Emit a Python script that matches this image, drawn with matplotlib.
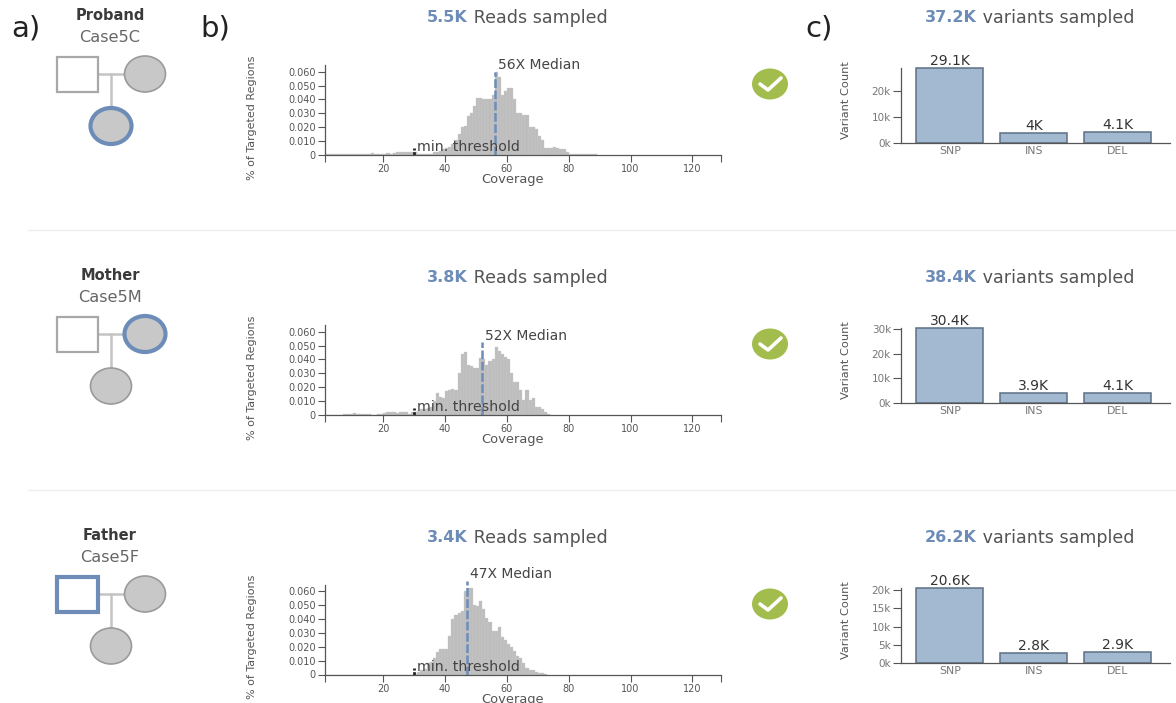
import matplotlib
matplotlib.use('Agg')
import matplotlib.pyplot as plt
from matplotlib.patches import Ellipse, Rectangle

W, H = 1176, 703
plt.rcParams['font.family'] = ['DejaVu Sans']

coverage_start = 1
proband_cov = [.0005, .0005, .0005, .0005, .0005, .0005, .001, .001, .0005, .001, .001, .001, .001, .001, .001, .0015, .0005,
               .0005, .001, .001, .0015, .001, .0015, .002, .002, .002, .002, .002, .002, .002,
               .001, .0005, .0005, .001, .001, .002, .002, .003, .004, .005,
               .006, .008, .011, .015, .020, .021, .028, .030, .035, .041,
               .041, .040, .040, .040, .043, .060, .056, .043, .046, .048,
               .048, .040, .030, .030, .029, .029, .020, .020, .019, .014,
               .011, .005, .005, .005, .006, .005, .004, .004, .002, .001,
               .0005, .0005, .0005, .001, .001, .0005, .0005, .0005]
mother_cov = [0, 0, 0, 0, 0, 0, .0005, .001, .001, .0015, .001, .0005, .001, .0005, .001, 0, 0, .0005, .001, .0015,
              .002, .002, .002, .0015, .002, .002, .002, .001, .002, .002,
              .003, .004, .004, .005, .006, .010, .016, .013, .012, .017,
              .018, .019, .018, .030, .044, .045, .036, .035, .034, .034,
              .041, .040, .036, .039, .040, .049, .046, .044, .042, .040,
              .030, .024, .024, .018, .011, .018, .011, .012, .006, .006,
              .004, .002, .001]
father_cov = [0] * 29 + [.0005, .002, .003, .004, .008, .009, .012, .016, .018, .018, .018,
              .028, .040, .043, .044, .046, .060, .062, .062, .050, .049,
              .053, .047, .041, .038, .031, .031, .034, .027, .025, .022,
              .020, .017, .013, .012, .008, .005, .003, .003, .002, .001, .001, .0005]
cov_ticks = [20, 40, 60, 80, 100, 120]
frac_ticks = [0, .01, .02, .03, .04, .05, .06]
frac_labels = ['0', '0.010', '0.020', '0.030', '0.040', '0.050', '0.060']

roles = ['Proband', 'Mother', 'Father']
cases = ['Case5C', 'Case5M', 'Case5F']
reads = ['5.5K', '3.8K', '3.4K']
medians = [56, 52, 47]
variants = ['37.2K', '38.4K', '26.2K']
var_types = ['SNP', 'INS', 'DEL']
var_counts = [[29100, 4000, 4100], [30400, 3900, 4100], [20600, 2800, 2900]]
var_labels = [['29.1K', '4K', '4.1K'], ['30.4K', '3.9K', '4.1K'], ['20.6K', '2.8K', '2.9K']]
var_ticks = [[0, 10000, 20000], [0, 10000, 20000, 30000], [0, 5000, 10000, 15000, 20000]]
var_ticklabels = [['0k', '10k', '20k'], ['0k', '10k', '20k', '30k'], ['0k', '5k', '10k', '15k', '20k']]

BLUE = '#6d8db8'
BAR_BLUE = '#a3b8d1'
GREY = '#bdbdbd'

fig = plt.figure(figsize=(W / 100, H / 100), dpi=100)


def px_axes(left, top, right, bottom):
    return fig.add_axes([left / W, 1 - bottom / H, (right - left) / W, (bottom - top) / H])


# pixel overlay for labels and pedigree drawings
bg = fig.add_axes([0, 0, 1, 1])
bg.set_xlim(0, W)
bg.set_ylim(H, 0)
bg.axis('off')

bg.text(11, 28, 'a)', fontsize=21, color='#222222', va='center')
bg.text(200, 28, 'b)', fontsize=21, color='#222222', va='center')
bg.text(805, 28, 'c)', fontsize=21, color='#222222', va='center')
bg.plot([28, 1176], [230, 230], color='#eeeeee', lw=1)
bg.plot([28, 1176], [490, 490], color='#eeeeee', lw=1)


def pedigree(off, who):
    line = '#c4c4c4'
    bg.plot([99, 124], [74 + off, 74 + off], color=line, lw=1.8, zorder=1)
    bg.plot([111, 111], [74 + off, 108 + off], color=line, lw=1.8, zorder=1)
    bg.add_patch(Rectangle((57, 57 + off), 41, 35, fc='white', ec=BLUE if who == 2 else '#a8a8a8',
                           lw=3 if who == 2 else 1.6, zorder=2))
    bg.add_patch(Ellipse((145, 74 + off), 41, 36, fc='#c8c8c8', ec=BLUE if who == 1 else '#9a9a9a',
                         lw=3 if who == 1 else 1.2, zorder=2))
    bg.add_patch(Ellipse((111, 126 + off), 41, 36, fc='#c8c8c8', ec=BLUE if who == 0 else '#9a9a9a',
                         lw=3 if who == 0 else 1.2, zorder=2))


def check(off):
    bg.add_patch(Ellipse((770, 84 + off), 36, 31, fc='#a2bd4e', ec='none'))
    bg.plot([760, 768, 781], [84 + off, 90 + off, 78 + off], color='white', lw=2.6, solid_capstyle='round')


def style_axis(ax):
    ax.patch.set_alpha(0)
    for s in ['top', 'right']:
        ax.spines[s].set_visible(False)
    for s in ['left', 'bottom']:
        ax.spines[s].set_color('#555555')
        ax.spines[s].set_linewidth(0.9)


rows = [0, 260, 520]
row_hist = [proband_cov, mother_cov, father_cov]
for i, off in enumerate(rows):
    bg.text(110, 15 + off, roles[i], fontsize=10.5, fontweight='bold', color='#3a3a3a', ha='center', va='center')
    bg.text(110, 38 + off, cases[i], fontsize=11.6, color='#666666', ha='center', va='center')
    pedigree(off, i)
    check(off)

    # read count and variant count titles
    t = bg.annotate(reads[i], (427, 18 + off), fontsize=11.5, fontweight='bold', color=BLUE, va='center')
    bg.annotate(' Reads sampled', xycoords=t, xy=(1, 0.5), fontsize=12.6, color='#555555', va='center')
    t = bg.annotate(variants[i], (925, 18 + off), fontsize=11.5, fontweight='bold', color=BLUE, va='center')
    bg.annotate(' variants sampled', xycoords=t, xy=(1, 0.5), fontsize=12.6, color='#555555', va='center')

    # coverage histogram
    base = 155 + off - (0 if i < 2 else 0.5)
    ax = px_axes(324.7, base - 90, 720.7, base)
    style_axis(ax)
    ax.set_xlim(1, 129.2)
    ax.set_ylim(0, 90 / 1390)
    xs = [coverage_start + k for k in range(len(row_hist[i]))]
    ax.bar(xs, row_hist[i], width=1.0, align='edge', color=GREY, edgecolor='#cccccc', linewidth=0.25)
    ax.set_xticks(cov_ticks + [1, 129.2], [str(v) for v in cov_ticks] + ['', ''])
    ax.set_yticks(frac_ticks, frac_labels)
    ax.tick_params(axis='both', labelsize=7, length=5, width=0.8, color='#555555', labelcolor='#555555', pad=1.5)
    ax.set_xlabel('Coverage', fontsize=9.4, color='#555555')
    ax.set_ylabel('% of Targeted Regions', fontsize=8, color='#555555')
    ax.yaxis.set_label_coords(-0.17, 0.417)
    ax.xaxis.set_label_coords(0.475, -0.2)
    med_top = [.060, .0525, .0675][i]
    ax.plot([medians[i], medians[i]], [0, med_top], color=BLUE, lw=1.8, ls=(0, (3.5, 1)), clip_on=False)
    ax.text(medians[i] + 1, med_top - .0005, f'{medians[i]}X Median', fontsize=10, color='#444444', va='bottom', clip_on=False)
    ax.plot([30, 30], [0, .005], color='#222222', lw=2, ls=(0, (1.2, 0.6)))
    ax.text(30.8, .0005, 'min. threshold', fontsize=10.2, color='#444444', va='bottom')

    # variant count bars
    ybase = 143 + off
    ax2 = px_axes(900.7, ybase - 75, 1170, ybase)
    style_axis(ax2)
    ax2.set_ylim(0, max(var_counts[i]))
    ax2.set_xlim(0, 269.3)
    xpos = [49, 133, 217]
    ax2.bar(xpos, var_counts[i], width=67, color=BAR_BLUE, edgecolor='#5c7085', linewidth=1.1, clip_on=False)
    ax2.set_xticks(xpos, var_types)
    ax2.set_yticks(var_ticks[i], var_ticklabels[i])
    ax2.tick_params(axis='x', length=0, labelsize=7.8, labelcolor='#777777', pad=2)
    ax2.tick_params(axis='y', length=6, width=0.8, color='#555555', labelsize=7.5, labelcolor='#777777', pad=1)
    ax2.set_ylabel('Variant Count', fontsize=8.2, color='#555555')
    ax2.yaxis.set_label_coords(-0.183, 0.57)
    for x, v, lab in zip(xpos, var_counts[i], var_labels[i]):
        ax2.text(x, v, lab, fontsize=10, color='#333333', ha='center', va='bottom', clip_on=False)

fig.savefig('out.png', dpi=100)
